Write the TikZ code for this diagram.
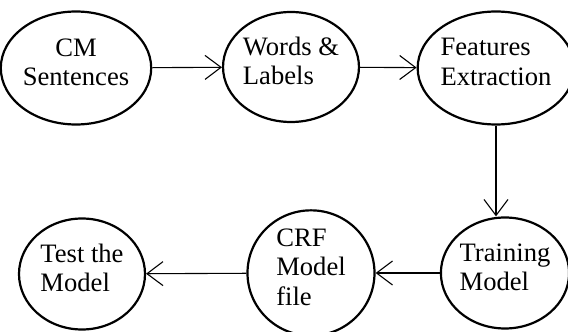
\documentclass[tikz,border=0pt]{standalone}
\usepackage{fontspec}
\setmainfont{Liberation Serif}
\usetikzlibrary{shapes.geometric,arrows.meta}

\tikzset{
  stage/.style={draw, ellipse, line width=2.2pt, inner sep=0pt,
    font=\fontsize{26.6}{29.5}\selectfont, text depth=12pt},
  flow/.style={-{Straight Barb[length=16pt,width=24pt]}, line width=1.1pt}
}

\begin{document}
\begin{tikzpicture}[x=1pt,y=1pt]

\useasboundingbox (0,0) rectangle (568,332); % Page

% Top row
\node[stage, align=center, minimum width=137, minimum height=113] (cm) at (76,264) {CM\\Sentences};
\node[stage, align=left, minimum width=127, minimum height=110] (words) at (291,265) {Words \&\\Labels};
\node[stage, align=left, minimum width=139, minimum height=113] (feat) at (496,264) {Features\\Extraction};

% Bottom row
\node[stage, align=left, minimum width=122, minimum height=111] (train) at (505,59) {Training\\Model};
\node[stage, align=left, minimum width=127, minimum height=111] (crf) at (311,59) {CRF\\Model\\file};
\node[stage, align=left, minimum width=126, minimum height=111] (test) at (82,58) {Test the\\Model};

% Flow of the steps
\draw[flow] (cm) -- (words);
\draw[flow] (words) -- (feat);
\draw[flow] (feat.south) -- (feat.south |- train.north);
\draw[flow] (train) -- (crf);
\draw[flow] (crf) -- (test);

\end{tikzpicture}
\end{document}
